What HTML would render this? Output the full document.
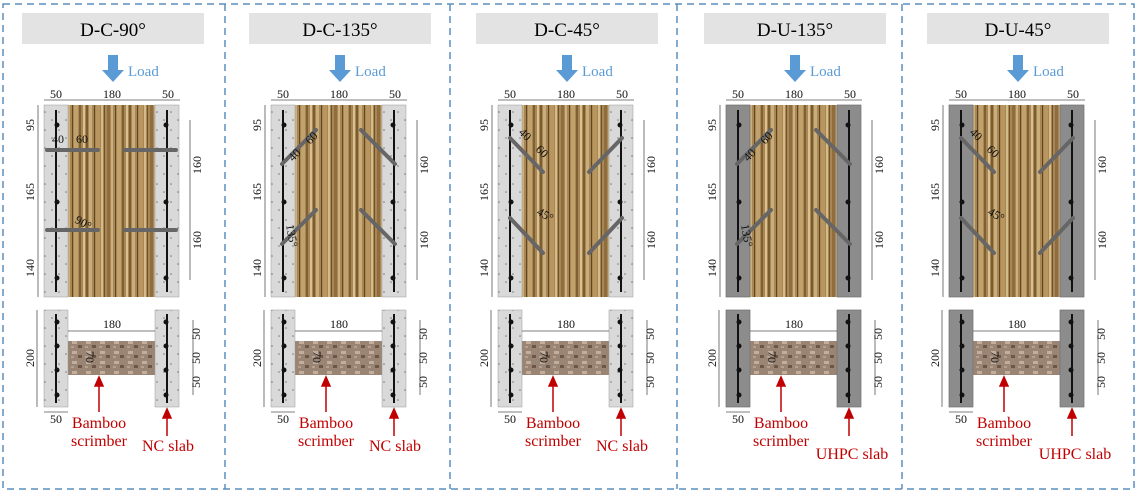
<!DOCTYPE html>
<html><head><meta charset="utf-8"><style>
html,body{margin:0;padding:0;background:#fff;}
svg{display:block;font-family:"Liberation Serif",serif;}
</style></head><body>
<svg width="1138" height="496" viewBox="0 0 1138 496" xmlns="http://www.w3.org/2000/svg">
<defs>
<pattern id="wood" width="43" height="192" patternUnits="userSpaceOnUse">
<rect width="43" height="192" fill="#a98752"/>
<rect x="0" width="2" height="192" fill="#7a5c32"/>
<rect x="3" width="3" height="192" fill="#c9ad7a"/>
<rect x="8" width="1" height="192" fill="#5e4526"/>
<rect x="10" width="4" height="192" fill="#b9965f"/>
<rect x="15" width="2" height="192" fill="#d4bb8a"/>
<rect x="18" width="1" height="192" fill="#6e5230"/>
<rect x="21" width="3" height="192" fill="#8e6d40"/>
<rect x="25" width="2" height="192" fill="#cdb07e"/>
<rect x="29" width="1" height="192" fill="#604628"/>
<rect x="31" width="4" height="192" fill="#c2a26c"/>
<rect x="36" width="2" height="192" fill="#7f6036"/>
<rect x="40" width="2" height="192" fill="#d8c090"/>
</pattern>
<pattern id="bam" width="14" height="10" patternUnits="userSpaceOnUse">
<rect width="14" height="10" fill="#9a8474"/>
<rect x="2" y="1" width="5" height="3" fill="#c2ae9c"/>
<rect x="8" y="5" width="4" height="3" fill="#6c5648"/>
<rect x="1" y="6" width="3" height="2" fill="#b4a090"/>
</pattern>
<pattern id="nc" width="14" height="18" patternUnits="userSpaceOnUse">
<rect width="14" height="18" fill="#d9d9d9"/>
<circle cx="3" cy="4" r="0.8" fill="#777"/><circle cx="10" cy="12" r="0.8" fill="#777"/>
</pattern>
<g id="base" fill="none" stroke="#555" stroke-width="0.8">
<line x1="44" y1="100" x2="180" y2="100"/>
<line x1="38" y1="105" x2="38" y2="297"/>
<line x1="190" y1="120" x2="190" y2="280"/>
<line x1="68" y1="331" x2="155" y2="331"/>
<line x1="37" y1="310" x2="37" y2="407"/>
<line x1="44" y1="412" x2="68" y2="412"/>
<line x1="193" y1="320" x2="193" y2="395"/>
</g>
<g id="redarrows" stroke="#c00000" stroke-width="1.5" fill="#c00000">
<line x1="99" y1="412" x2="99" y2="384"/><path d="M95,386 L99,377 L103,386Z"/>
<line x1="167" y1="436" x2="167" y2="416"/><path d="M163,418 L167,409 L171,418Z"/>
</g>
<g id="loadarrow"><path d="M108,55 H118 V70 H124 L113,82 L102,70 H108Z" fill="#5b9bd5"/></g>
</defs>
<rect x="3" y="4" width="1131" height="485" fill="none" stroke="#5b8fbd" stroke-width="1.5" stroke-dasharray="7,5"/>
<g stroke="#5b8fbd" stroke-width="1.5" stroke-dasharray="7,5">
<line x1="225" y1="4" x2="225" y2="489"/><line x1="450" y1="4" x2="450" y2="489"/>
<line x1="677" y1="4" x2="677" y2="489"/><line x1="902" y1="4" x2="902" y2="489"/></g>

<g id="p1">
<rect x="22" y="13" width="182" height="31" fill="#e3e3e3"/>
<use href="#loadarrow"/>
<rect x="68" y="105" width="87" height="192" fill="url(#wood)"/>
<rect x="44" y="105" width="24" height="192" fill="url(#nc)" stroke="#999" stroke-width="0.5"/>
<rect x="155" y="105" width="24" height="192" fill="url(#nc)" stroke="#999" stroke-width="0.5"/>
<rect x="68" y="341" width="87" height="34" fill="url(#bam)"/>
<rect x="44" y="310" width="24" height="97" fill="url(#nc)" stroke="#999" stroke-width="0.5"/>
<rect x="155" y="310" width="24" height="97" fill="url(#nc)" stroke="#999" stroke-width="0.5"/>
</g>
<g id="rebar" stroke="#111" stroke-width="2" fill="#111">
<line x1="56" y1="110" x2="56" y2="292"/><line x1="167" y1="110" x2="167" y2="292"/>
<line x1="56" y1="314" x2="56" y2="403"/><line x1="167" y1="314" x2="167" y2="403"/>
<circle cx="57" cy="125" r="1.5"/><circle cx="57" cy="202" r="1.5"/><circle cx="57" cy="278" r="1.5"/>
<circle cx="166" cy="125" r="1.5"/><circle cx="166" cy="202" r="1.5"/><circle cx="166" cy="278" r="1.5"/>
<circle cx="57" cy="322" r="1.5"/><circle cx="57" cy="346" r="1.5"/><circle cx="57" cy="370" r="1.5"/><circle cx="57" cy="395" r="1.5"/>
<circle cx="166" cy="322" r="1.5"/><circle cx="166" cy="346" r="1.5"/><circle cx="166" cy="370" r="1.5"/><circle cx="166" cy="395" r="1.5"/>
</g>
<use href="#base"/><use href="#redarrows"/>
<g stroke="#666" stroke-width="4" stroke-linecap="round">
<line x1="47" y1="150" x2="98" y2="150"/><line x1="125" y1="150" x2="176" y2="150"/>
<line x1="47" y1="230" x2="98" y2="230"/><line x1="125" y1="230" x2="176" y2="230"/></g>

<g transform="translate(227,0)">
<use href="#p1"/><use href="#rebar"/><use href="#base"/><use href="#redarrows"/>
<g stroke="#666" stroke-width="4" stroke-linecap="round">
<line x1="55" y1="164" x2="89" y2="130"/><line x1="55" y1="244" x2="89" y2="210"/>
<line x1="134" y1="130" x2="168" y2="164"/><line x1="134" y1="210" x2="168" y2="244"/></g></g>

<g transform="translate(454,0)">
<use href="#p1"/><use href="#rebar"/><use href="#base"/><use href="#redarrows"/>
<g stroke="#666" stroke-width="4" stroke-linecap="round">
<line x1="56" y1="138" x2="89" y2="172"/><line x1="56" y1="218" x2="89" y2="253"/>
<line x1="168" y1="138" x2="135" y2="172"/><line x1="168" y1="218" x2="135" y2="253"/></g></g>

<g transform="translate(682,0)">
<use href="#p1"/>
<g fill="#8c8c8c" stroke="#666" stroke-width="0.5">
<rect x="44" y="105" width="24" height="192"/><rect x="155" y="105" width="24" height="192"/>
<rect x="44" y="310" width="24" height="97"/><rect x="155" y="310" width="24" height="97"/></g>
<use href="#rebar"/><use href="#base"/><use href="#redarrows"/>
<g stroke="#666" stroke-width="4" stroke-linecap="round">
<line x1="55" y1="164" x2="89" y2="130"/><line x1="55" y1="244" x2="89" y2="210"/>
<line x1="134" y1="130" x2="168" y2="164"/><line x1="134" y1="210" x2="168" y2="244"/></g></g>

<g transform="translate(905,0)">
<use href="#p1"/>
<g fill="#8c8c8c" stroke="#666" stroke-width="0.5">
<rect x="44" y="105" width="24" height="192"/><rect x="155" y="105" width="24" height="192"/>
<rect x="44" y="310" width="24" height="97"/><rect x="155" y="310" width="24" height="97"/></g>
<use href="#rebar"/><use href="#base"/><use href="#redarrows"/>
<g stroke="#666" stroke-width="4" stroke-linecap="round">
<line x1="56" y1="138" x2="89" y2="172"/><line x1="56" y1="218" x2="89" y2="253"/>
<line x1="168" y1="138" x2="135" y2="172"/><line x1="168" y1="218" x2="135" y2="253"/></g></g>

<g font-size="19" text-anchor="middle" fill="#000">
<text x="113" y="36">D-C-90°</text><text x="340" y="36">D-C-135°</text><text x="567" y="36">D-C-45°</text>
<text x="795" y="36">D-U-135°</text><text x="1018" y="36">D-U-45°</text></g>
<g font-size="15" fill="#5b9bd5">
<text x="128" y="76">Load</text><text x="355" y="76">Load</text><text x="582" y="76">Load</text>
<text x="810" y="76">Load</text><text x="1033" y="76">Load</text></g>

<g font-size="12" fill="#111" text-anchor="middle">
<text x="56" y="98">50</text><text x="112" y="98">180</text><text x="168" y="98">50</text><text x="112" y="328">180</text><text x="56" y="423">50</text>
<text x="283" y="98">50</text><text x="339" y="98">180</text><text x="395" y="98">50</text><text x="339" y="328">180</text><text x="283" y="423">50</text>
<text x="510" y="98">50</text><text x="566" y="98">180</text><text x="622" y="98">50</text><text x="566" y="328">180</text><text x="510" y="423">50</text>
<text x="738" y="98">50</text><text x="794" y="98">180</text><text x="850" y="98">50</text><text x="794" y="328">180</text><text x="738" y="423">50</text>
<text x="961" y="98">50</text><text x="1017" y="98">180</text><text x="1073" y="98">50</text><text x="1017" y="328">180</text><text x="961" y="423">50</text>
</g>
<g font-size="12" fill="#111" text-anchor="middle">
<text transform="translate(34,125) rotate(-90)">95</text><text transform="translate(34,192) rotate(-90)">165</text><text transform="translate(34,268) rotate(-90)">140</text><text transform="translate(34,358) rotate(-90)">200</text>
<text transform="translate(201,165) rotate(-90)">160</text><text transform="translate(201,240) rotate(-90)">160</text>
<text transform="translate(200,334) rotate(-90)">50</text><text transform="translate(200,358) rotate(-90)">50</text><text transform="translate(200,382) rotate(-90)">50</text>
<text transform="translate(86,357) rotate(90)">70</text>
<text transform="translate(261,125) rotate(-90)">95</text><text transform="translate(261,192) rotate(-90)">165</text><text transform="translate(261,268) rotate(-90)">140</text><text transform="translate(261,358) rotate(-90)">200</text>
<text transform="translate(428,165) rotate(-90)">160</text><text transform="translate(428,240) rotate(-90)">160</text>
<text transform="translate(427,334) rotate(-90)">50</text><text transform="translate(427,358) rotate(-90)">50</text><text transform="translate(427,382) rotate(-90)">50</text>
<text transform="translate(313,357) rotate(90)">70</text>
<text transform="translate(488,125) rotate(-90)">95</text><text transform="translate(488,192) rotate(-90)">165</text><text transform="translate(488,268) rotate(-90)">140</text><text transform="translate(488,358) rotate(-90)">200</text>
<text transform="translate(655,165) rotate(-90)">160</text><text transform="translate(655,240) rotate(-90)">160</text>
<text transform="translate(654,334) rotate(-90)">50</text><text transform="translate(654,358) rotate(-90)">50</text><text transform="translate(654,382) rotate(-90)">50</text>
<text transform="translate(540,357) rotate(90)">70</text>
<text transform="translate(716,125) rotate(-90)">95</text><text transform="translate(716,192) rotate(-90)">165</text><text transform="translate(716,268) rotate(-90)">140</text><text transform="translate(716,358) rotate(-90)">200</text>
<text transform="translate(883,165) rotate(-90)">160</text><text transform="translate(883,240) rotate(-90)">160</text>
<text transform="translate(882,334) rotate(-90)">50</text><text transform="translate(882,358) rotate(-90)">50</text><text transform="translate(882,382) rotate(-90)">50</text>
<text transform="translate(768,357) rotate(90)">70</text>
<text transform="translate(939,125) rotate(-90)">95</text><text transform="translate(939,192) rotate(-90)">165</text><text transform="translate(939,268) rotate(-90)">140</text><text transform="translate(939,358) rotate(-90)">200</text>
<text transform="translate(1106,165) rotate(-90)">160</text><text transform="translate(1106,240) rotate(-90)">160</text>
<text transform="translate(1105,334) rotate(-90)">50</text><text transform="translate(1105,358) rotate(-90)">50</text><text transform="translate(1105,382) rotate(-90)">50</text>
<text transform="translate(991,357) rotate(90)">70</text>
</g>
<g font-size="12" fill="#111">
<text x="52" y="143">40</text><text x="76" y="143">60</text><text x="74" y="222" transform="rotate(30 74 222)">90°</text>
<text transform="translate(293,162) rotate(-45)">40</text><text transform="translate(310,145) rotate(-45)">60</text><text transform="translate(286,225) rotate(80)">135°</text>
<text transform="translate(518,133) rotate(45)">40</text><text transform="translate(535,150) rotate(45)">60</text><text transform="translate(536,214) rotate(30)">45°</text>
<text transform="translate(748,162) rotate(-45)">40</text><text transform="translate(765,145) rotate(-45)">60</text><text transform="translate(741,225) rotate(80)">135°</text>
<text transform="translate(969,133) rotate(45)">40</text><text transform="translate(986,150) rotate(45)">60</text><text transform="translate(987,214) rotate(30)">45°</text>
</g>
<g font-size="16" fill="#c00000" text-anchor="middle">
<text x="99" y="428">Bamboo</text><text x="99" y="446">scrimber</text><text x="168" y="451">NC slab</text>
<text x="326" y="428">Bamboo</text><text x="326" y="446">scrimber</text><text x="395" y="451">NC slab</text>
<text x="553" y="428">Bamboo</text><text x="553" y="446">scrimber</text><text x="622" y="451">NC slab</text>
<text x="781" y="428">Bamboo</text><text x="781" y="446">scrimber</text><text x="852" y="459">UHPC slab</text>
<text x="1004" y="428">Bamboo</text><text x="1004" y="446">scrimber</text><text x="1075" y="459">UHPC slab</text>
</g>
</svg>
</body></html>
